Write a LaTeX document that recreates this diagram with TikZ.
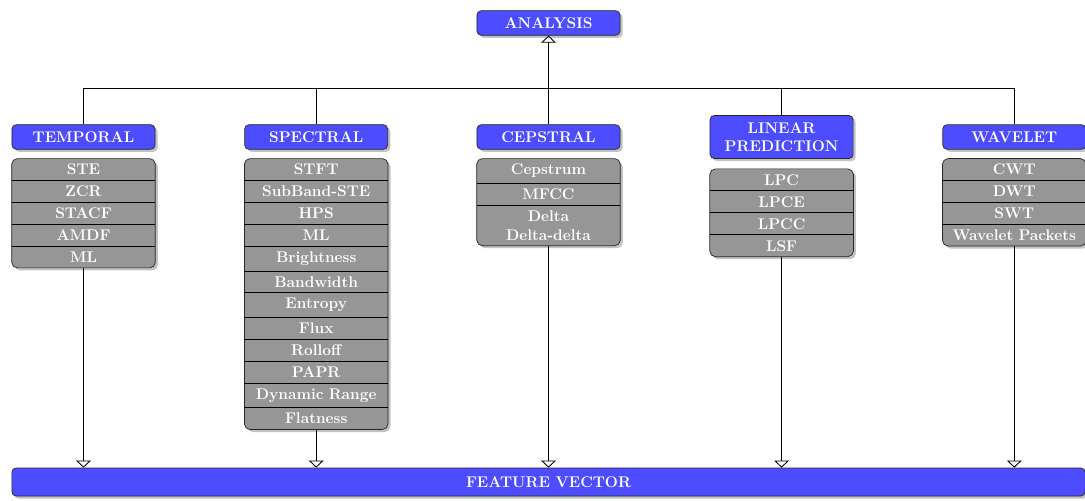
\documentclass[tikz,border=0pt]{standalone}
\usetikzlibrary{arrows.meta,shadows,fit,backgrounds,calc}

\definecolor{catblue}{RGB}{77,77,255}
\definecolor{rowgray}{RGB}{150,150,150}

\tikzset{
  px/.style={x=0.025cm,y=-0.025cm},
  boxfont/.style={font=\fontsize{11}{13.2}\selectfont\bfseries},
  shadebox/.style={drop shadow={shadow xshift=1.8pt,shadow yshift=-1.8pt,fill=black!40,opacity=0.6}},
  headbox/.style={boxfont, draw=black!85, line width=0.5pt, fill=catblue, text=white,
    rounded corners=3pt, minimum width=3.575cm, minimum height=0.6cm,
    inner xsep=0pt, inner ysep=4.8pt, align=center, shadebox},
  featrow/.style={boxfont, text=white, inner xsep=0pt, inner ysep=3.7pt,
    text width=3.575cm, align=center},
  rowrule/.style={draw=black, line width=0.5pt},
  listbox/.style={draw=black!85, line width=0.5pt, fill=rowgray, rounded corners=4pt,
    inner sep=0pt, shadebox},
  link/.style={draw=black, line width=0.6pt},
  opentip/.style={-{Triangle[open,length=5pt,width=10.5pt]}},
}

% #1 list name, #2 top centre point, #3 entries
\newcommand\featlist[3]{%
  \foreach \txt [count=\i] in {#3}{%
    \ifnum\i=1
      \node[featrow, anchor=north] (#1-\i) at (#2) {\txt};
    \else
      \pgfmathtruncatemacro\j{\i-1}
      \draw[rowrule] (#1-\j.south west) -- (#1-\j.south east);
      \node[featrow, anchor=north] (#1-\i) at (#1-\j.south) {\txt};
    \fi
    \xdef\lastrow{\i}
  }
  \begin{scope}[on background layer]
    \node[listbox, fit=(#1-1)(#1-\lastrow)] (#1) {};
  \end{scope}
}

\begin{document}
\begin{tikzpicture}[px]
\useasboundingbox (0,0) rectangle (1085,500);

% headings
\node[headbox] (analysis) at (548.5,23) {ANALYSIS};
\node[headbox] (temporal) at (83.5,137) {TEMPORAL};
\node[headbox] (spectral) at (316.2,137) {SPECTRAL};
\node[headbox] (cepstral) at (548.5,137) {CEPSTRAL};
\node[headbox] (linear)   at (781.6,137) {LINEAR\\PREDICTION};
\node[headbox] (wavelet)  at (1014.3,137) {WAVELET};

% feature lists
\featlist{temporal-list}{$(temporal.south)+(0,9)$}{STE, ZCR, STACF, AMDF, ML}
\featlist{spectral-list}{$(spectral.south)+(0,9)$}{STFT, SubBand-STE, HPS, ML, Brightness,
  Bandwidth, Entropy, Flux, Rolloff, PAPR, Dynamic Range, Flatness}
\featlist{cepstral-list}{$(cepstral.south)+(0,9)$}{Cepstrum, MFCC, {Delta\\Delta-delta}}
\featlist{linear-list}{$(linear.south)+(0,10)$}{LPC, LPCE, LPCC, LSF}
\featlist{wavelet-list}{$(wavelet.south)+(0,9)$}{CWT, DWT, SWT, Wavelet Packets}

% output bar
\node[headbox, minimum width=26.825cm, minimum height=0.7cm] (feature) at (548.5,482) {FEATURE VECTOR};

% connectors
\coordinate (hub) at ($(analysis.south)+(0,53.3)$);
\draw[link] (temporal.north) |- (hub) -| (wavelet.north);
\foreach \n in {spectral,cepstral,linear}
  \draw[link] (\n.north) -- (\n.north |- hub);
\draw[link,opentip] (hub) -- (analysis.south);
\foreach \n in {temporal,spectral,cepstral,linear,wavelet}
  \draw[link,opentip] (\n-list.south) -- (\n-list.south |- feature.north);
\end{tikzpicture}
\end{document}
